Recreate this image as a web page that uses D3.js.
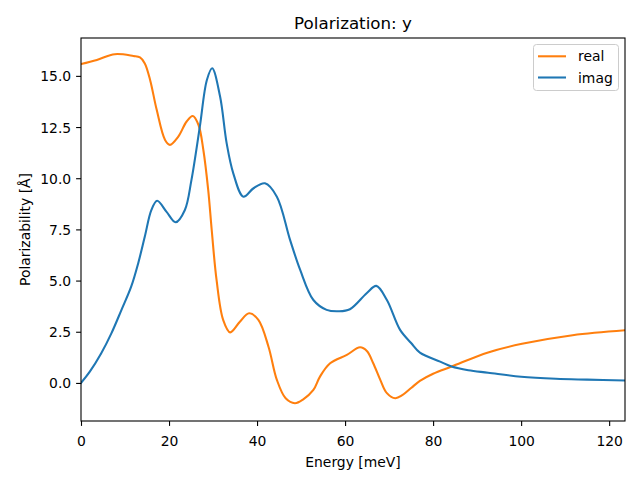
<!DOCTYPE html>
<html>
<head>
<meta charset="utf-8">
<script src="https://cdn.jsdelivr.net/npm/d3@7"></script>
<style>
  html, body { margin: 0; padding: 0; background: #fff; }
  svg { display: block; font-family: "DejaVu Sans", sans-serif; }
</style>
</head>
<body>
<svg id="chart" width="640" height="480"></svg>
<script>
// ---- data ----
const chartTitle = "Polarization: y";
const xLabel = "Energy [meV]";
const yLabel = "Polarizability [Å]";
const seriesNames = ["real", "imag"];
const xTicks = [0, 20, 40, 60, 80, 100, 120];
const yTicks = [0, 2.5, 5, 7.5, 10, 12.5, 15];

const realEnergy = [0, 3.6, 7.7, 11.9, 13.4, 14.5, 15.7, 17.2, 19.1, 20.2, 22.1, 24, 25.4, 26.7, 27.8, 28.9, 29.7, 30.8, 32.3, 33.9, 36.1, 38.2, 40.3, 42.6, 44.5, 46.5, 48.6, 50.5, 52.8, 54.3, 56.6, 60.4, 63.4, 65, 66.4, 68, 69.5, 71.4, 73, 75, 77, 80, 84.2, 92.5, 100.2, 111.7, 123.6];
const realValues = [15.58, 15.78, 16.06, 15.97, 15.9, 15.61, 14.8, 13.34, 11.87, 11.63, 12.03, 12.77, 13.04, 12.6, 11.38, 9.43, 7.47, 5.03, 3.08, 2.47, 2.99, 3.4, 3.08, 1.77, 0.15, -0.75, -0.99, -0.8, -0.34, 0.31, 0.96, 1.37, 1.74, 1.55, 0.96, 0.15, -0.5, -0.75, -0.6, -0.25, 0.1, 0.45, 0.8, 1.49, 1.91, 2.33, 2.57];

const imagEnergy = [0, 2, 4.6, 6.9, 9.2, 11.4, 13, 14.5, 16, 17.3, 19.4, 21.5, 23.6, 25.1, 27, 28.6, 29.8, 31.6, 33.1, 34.6, 36.9, 39.2, 41.8, 44.5, 47.5, 49.8, 52.8, 55.8, 58.5, 61.1, 64.9, 67.1, 69.5, 72.5, 75, 77, 81.6, 84.2, 88, 92.5, 100, 107.9, 115, 123.6];
const imagValues = [0, 0.55, 1.45, 2.42, 3.57, 4.7, 5.85, 7.15, 8.45, 8.9, 8.37, 7.85, 8.45, 9.92, 12.52, 14.8, 15.37, 13.99, 11.7, 10.24, 9.1, 9.51, 9.75, 9.1, 6.99, 5.52, 4.05, 3.57, 3.5, 3.6, 4.38, 4.74, 4.05, 2.59, 1.95, 1.48, 1.04, 0.8, 0.62, 0.5, 0.3, 0.2, 0.16, 0.12];

const xDomain = [0, 123.6];
const yDomain = [-1.86, 16.85];
const colors = ["#ff7f0e", "#1f77b4"];

// ---- layout ----
const W = 640, H = 480;
const plot = { left: 81, right: 625, top: 38, bottom: 421 };

const svg = d3.select("#chart");
svg.append("rect").attr("width", W).attr("height", H).attr("fill", "#fff");

const x = d3.scaleLinear().domain(xDomain).range([plot.left, plot.right]);
const y = d3.scaleLinear().domain(yDomain).range([plot.bottom, plot.top]);

const fs = 13.9;

// clip
svg.append("clipPath").attr("id", "clip").append("rect")
  .attr("x", plot.left).attr("y", plot.top)
  .attr("width", plot.right - plot.left).attr("height", plot.bottom - plot.top);

const series = [
  { name: seriesNames[0], xs: realEnergy, ys: realValues, color: colors[0] },
  { name: seriesNames[1], xs: imagEnergy, ys: imagValues, color: colors[1] }
];

const line = d3.line()
  .x(d => x(d[0]))
  .y(d => y(d[1]))
  .curve(d3.curveCatmullRom.alpha(0.5));

const g = svg.append("g").attr("clip-path", "url(#clip)");
series.forEach(s => {
  const pts = s.xs.map((v, i) => [v, s.ys[i]]);
  g.append("path").datum(pts)
    .attr("d", line)
    .attr("fill", "none")
    .attr("stroke", s.color)
    .attr("stroke-width", 2.08)
    .attr("stroke-linejoin", "round")
    .attr("stroke-linecap", "square");
});

// axes
const xAxis = d3.axisBottom(x).tickValues(xTicks).tickFormat(d3.format("d"))
  .tickSizeOuter(0).tickSizeInner(4.9).tickPadding(4.9);
const yAxis = d3.axisLeft(y).tickValues(yTicks).tickFormat(d3.format(".1f"))
  .tickSizeOuter(0).tickSizeInner(4.9).tickPadding(4.9);

const gx = svg.append("g").attr("transform", `translate(0,${plot.bottom})`).call(xAxis);
const gy = svg.append("g").attr("transform", `translate(${plot.left},0)`).call(yAxis);
[gx, gy].forEach(a => {
  a.select(".domain").remove();
  a.selectAll(".tick line").attr("stroke", "#000").attr("stroke-width", 1.1);
  a.selectAll(".tick text").attr("fill", "#000")
    .style("font-family", "'DejaVu Sans', sans-serif").style("font-size", fs + "px");
});
gx.selectAll(".tick text").attr("dy", null).attr("y", 25);
gy.selectAll(".tick text").attr("dy", "0.36em");

// frame
svg.append("rect")
  .attr("x", plot.left).attr("y", plot.top)
  .attr("width", plot.right - plot.left).attr("height", plot.bottom - plot.top)
  .attr("fill", "none").attr("stroke", "#000").attr("stroke-width", 1.1);

// labels
svg.append("text").attr("x", (plot.left + plot.right) / 2).attr("y", 29)
  .attr("text-anchor", "middle").style("font-size", "16.7px").text(chartTitle);
svg.append("text").attr("x", (plot.left + plot.right) / 2).attr("y", 467)
  .attr("text-anchor", "middle").style("font-size", fs + "px").text(xLabel);
svg.append("text")
  .attr("transform", `translate(30,${(plot.top + plot.bottom) / 2}) rotate(-90)`)
  .attr("text-anchor", "middle").style("font-size", fs + "px").text(yLabel);

// legend
const lg = svg.append("g");
lg.append("rect").attr("x", 533.5).attr("y", 44.5).attr("width", 85).attr("height", 46)
  .attr("rx", 3).attr("fill", "#fff").attr("fill-opacity", 0.8)
  .attr("stroke", "#cccccc").attr("stroke-width", 1);
series.forEach((s, i) => {
  const ly = 56.3 + i * 21.2;
  lg.append("line").attr("x1", 538).attr("x2", 566).attr("y1", ly).attr("y2", ly)
    .attr("stroke", s.color).attr("stroke-width", 2.08);
  lg.append("text").attr("x", 578).attr("y", ly).attr("dy", "0.36em")
    .style("font-size", fs + "px").text(s.name);
});
</script>
</body>
</html>
